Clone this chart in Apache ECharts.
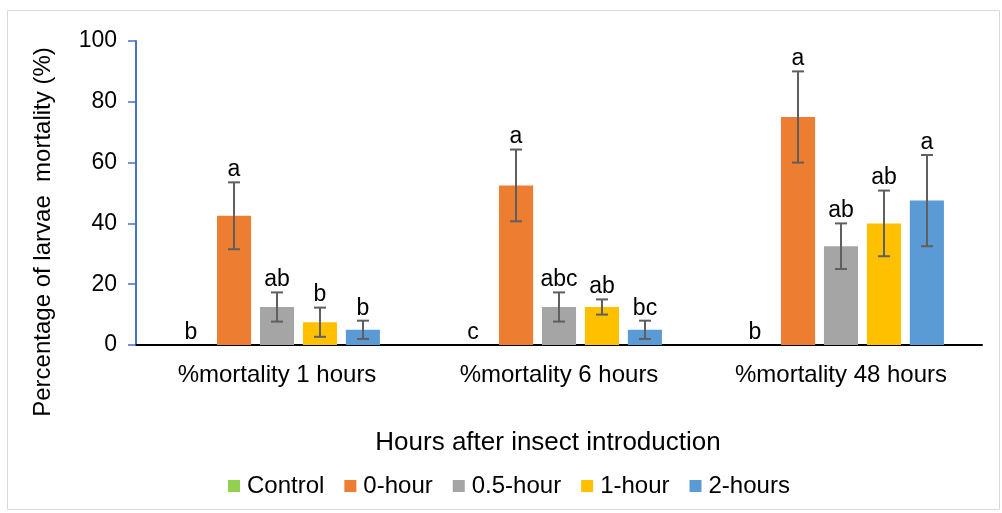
<!DOCTYPE html>
<html><head><meta charset="utf-8">
<script src="https://cdn.jsdelivr.net/npm/echarts@6/dist/echarts.min.js"></script>
<style>html,body{margin:0;padding:0;background:#fff}#c{width:1002px;height:513px}</style>
</head><body><div id="c"></div>
<script>
var categories = ['%mortality 1 hours', '%mortality 6 hours', '%mortality 48 hours'];
var seriesNames = ['Control', '0-hour', '0.5-hour', '1-hour', '2-hours'];
var colors = ['#92D050', '#ED7D31', '#A5A5A5', '#FFC000', '#5B9BD5'];
var controlVals = [0, 0, 0];
var hour0Vals = [42.5, 52.5, 75];
var hour05Vals = [12.5, 12.5, 32.5];
var hour1Vals = [7.5, 12.5, 40];
var hour2Vals = [5, 5, 47.5];
var controlErr = [0, 0, 0];
var hour0Err = [11, 11.8, 15];
var hour05Err = [4.8, 4.8, 7.5];
var hour1Err = [4.8, 2.5, 10.8];
var hour2Err = [3, 3, 15];
var controlLetters = ['b', 'c', 'b'];
var hour0Letters = ['a', 'a', 'a'];
var hour05Letters = ['ab', 'abc', 'ab'];
var hour1Letters = ['b', 'ab', 'ab'];
var hour2Letters = ['b', 'bc', 'a'];
var yTicks = [0, 20, 40, 60, 80, 100];
var xTitle = 'Hours after insect introduction';
var yTitle = 'Percentage of larvae  mortality (%)';

var vals = [controlVals, hour0Vals, hour05Vals, hour1Vals, hour2Vals];
var errs = [controlErr, hour0Err, hour05Err, hour1Err, hour2Err];
var letters = [controlLetters, hour0Letters, hour05Letters, hour1Letters, hour2Letters];
var CAT_GAP = 0.27, BAR_GAP = 0.26, N = 5;
var FONT = '"Liberation Sans", Arial, sans-serif';

var errData = [];
for (var s = 0; s < N; s++) for (var c = 0; c < 3; c++) errData.push([c, s, vals[s][c], errs[s][c]]);

function renderErr(params, api) {
  var c = api.value(0), s = api.value(1), v = api.value(2), e = api.value(3);
  var band = api.size([1, 0])[0];
  var w = (band * (1 - CAT_GAP)) / (N + (N - 1) * BAR_GAP);
  var total = N * w + (N - 1) * w * BAR_GAP;
  var dx = -total / 2 + s * w * (1 + BAR_GAP) + w / 2;
  var base = api.coord([c, v]);
  var x = Math.round(base[0] + dx);
  var top = api.coord([c, v + e])[1];
  var bot = api.coord([c, v - e])[1];
  var children = [];
  var style = {stroke: '#5f5f5f', lineWidth: 2};
  if (e > 0) {
    children.push({type: 'line', shape: {x1: x, y1: top, x2: x, y2: bot}, style: style});
    children.push({type: 'line', shape: {x1: x - 6, y1: top, x2: x + 6, y2: top}, style: style});
    children.push({type: 'line', shape: {x1: x - 6, y1: bot, x2: x + 6, y2: bot}, style: style});
  }
  children.push({type: 'text', style: {text: letters[s][c], x: x, y: top - 1, align: 'center', verticalAlign: 'bottom',
    font: '23px ' + FONT, fill: '#000'}});
  return {type: 'group', children: children};
}

var series = seriesNames.map(function (n, i) {
  return {name: n, type: 'bar', data: vals[i], itemStyle: {color: colors[i]},
    barGap: (BAR_GAP * 100) + '%', barCategoryGap: (CAT_GAP * 100) + '%', silent: true};
});
series.push({type: 'custom', renderItem: renderErr, data: errData, silent: true, z: 5,
  encode: {x: 0, y: 2}});

var chart = echarts.init(document.getElementById('c'), null, {renderer: 'canvas'});
chart.setOption({
  animation: false,
  backgroundColor: '#fff',
  textStyle: {fontFamily: FONT},
  graphic: [
    {type: 'rect', shape: {x: 7.5, y: 10.5, width: 992, height: 499}, style: {fill: 'none', stroke: '#D9D9D9', lineWidth: 1}, silent: true},
    {type: 'text', x: 548, y: 443, style: {text: xTitle, align: 'center', verticalAlign: 'middle', font: '26px ' + FONT, fill: '#000'}, silent: true},
    {type: 'text', x: 43, y: 232, rotation: Math.PI / 2, style: {text: yTitle, align: 'center', verticalAlign: 'middle', font: '24px ' + FONT, fill: '#000'}, silent: true}
  ],
  grid: {left: 136, right: 20, top: 41, bottom: 168, containLabel: false},
  legend: {data: seriesNames, bottom: 10, left: 223, itemWidth: 12, itemHeight: 12, itemGap: 20, icon: 'rect',
    textStyle: {fontSize: 24, color: '#000', padding: [0, 0, 0, 2]}},
  xAxis: {type: 'category', data: categories,
    axisLine: {lineStyle: {color: '#000', width: 2}}, axisTick: {show: false},
    axisLabel: {fontSize: 24, color: '#000', margin: 18}},
  yAxis: {type: 'value', min: 0, max: 100, interval: 20,
    axisLine: {show: true, lineStyle: {color: '#4472C4', width: 2}},
    axisTick: {show: true, length: 8, lineStyle: {color: '#4472C4', width: 1.5}},
    axisLabel: {fontSize: 23, color: '#000', margin: 19, customValues: yTicks},
    splitLine: {show: false}},
  series: series
});
</script></body></html>
